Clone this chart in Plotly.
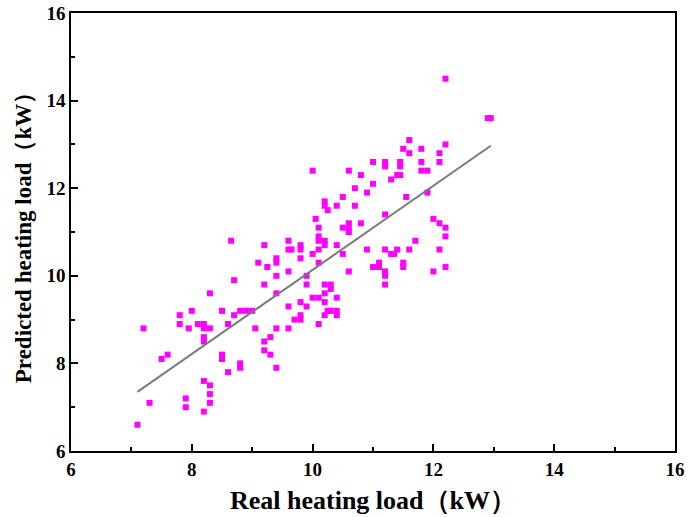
import plotly.graph_objects as go

# Real vs predicted heating load (kW)
real_load = [
    8.7, 8.3, 7.8, 8.0, 8.5, 8.7, 8.8, 8.9, 7.8, 8.1, 8.2, 7.95, 8.2, 8.3, 8.6, 7.2,
    8.2, 8.2, 7.6, 7.5, 8.5, 8.5, 8.8, 8.8, 8.6, 8.2, 8.3, 8.3, 8.3, 7.9, 7.9, 8.2,
    7.3, 7.1,
    9.0, 9.1, 9.25, 9.4, 9.4, 9.4, 9.2, 9.4, 9.6, 9.65, 9.8, 10.1, 9.8, 10.0, 10.1,
    10.5, 10.6, 9.6, 9.9, 9.9, 10.2, 10.3, 10.3, 10.2, 10.0, 10.1, 10.4, 10.2, 9.8,
    9.6, 9.9, 10.25, 10.3, 10.4, 10.4, 10.2, 9.8, 9.8, 9.7, 10.1, 9.05, 9.4, 9.6,
    9.3, 9.2, 9.2, 9.3, 9.4,
    11.2, 11.3, 11.35, 11.4, 11.6, 12.1, 11.0, 11.1, 11.1, 11.2, 11.2, 11.2, 11.5,
    11.5, 12.0, 12.2, 10.9,
    10.0, 10.6, 10.8, 10.7, 10.9, 10.5, 10.2, 10.2, 10.25, 10.4, 10.7, 10.05, 10.1,
    10.5, 10.6, 10.6, 10.6, 10.8, 10.1, 10.1, 10.2, 10.2, 10.4, 9.6, 9.8, 9.2, 8.65,
    12.2, 12.9, 12.95, 11.6, 11.5, 11.8, 11.6, 12.2, 12.1, 11.0, 11.2, 11.45, 11.8,
    12.1, 11.2, 11.45, 11.8, 11.9, 11.4, 11.45, 11.3, 11.0, 11.55, 11.9, 11.2, 12.0,
    12.1, 12.2, 12.2, 11.7,
]
pred_load = [
    9.9, 9.6, 9.1, 9.2, 9.2, 9.1, 9.2, 9.2, 8.9, 8.9, 8.9, 8.8, 8.8, 8.8, 8.9, 8.8,
    8.6, 8.5, 8.2, 8.1, 8.2, 8.1, 8.0, 7.9, 7.8, 7.6, 7.5, 7.3, 7.1, 7.2, 7.0, 6.9,
    7.1, 6.6,
    9.2, 10.3, 10.2, 10.4, 10.3, 10.0, 9.8, 9.6, 10.6, 10.6, 10.6, 10.6, 10.4, 10.5,
    10.3, 10.5, 10.1, 10.1, 10.0, 9.8, 9.8, 9.8, 9.7, 9.6, 9.5, 9.5, 9.5, 9.4, 9.4,
    9.3, 9.3, 9.2, 9.2, 9.2, 9.1, 9.1, 9.1, 9.0, 9.0, 8.9, 8.8, 8.8, 8.8,
    8.6, 8.5, 8.3, 8.2, 7.9,
    10.6, 10.5, 10.5, 10.6, 10.6, 10.6, 10.2, 10.3, 10.2, 10.1, 10.0, 9.8, 10.3,
    10.2, 10.1, 10.2, 10.6,
    12.4, 12.4, 12.3, 12.0, 11.9, 11.8, 11.7, 11.6, 11.5, 11.6, 11.6, 11.3, 11.1,
    11.1, 11.2, 11.1, 11.0, 11.2, 10.9, 10.8, 10.8, 10.7, 10.7, 10.8, 10.7, 10.7, 10.8,
    14.5, 13.6, 13.6, 13.1, 12.9, 12.9, 12.8, 13.0, 12.8, 12.6, 12.6, 12.6, 12.6,
    12.6, 12.5, 12.5, 12.4, 12.4, 12.3, 12.3, 12.2, 12.1, 11.8, 11.9, 11.4, 11.3,
    11.2, 11.1, 10.9, 10.8,
]

# fitted line end points
fit_x = [7.1, 12.95]
fit_y = [7.35, 12.97]

tick_vals = [6, 8, 10, 12, 14, 16]

font_name = "Liberation Serif"

fig = go.Figure()
fig.add_trace(go.Scatter(
    x=real_load, y=pred_load, mode="markers",
    marker=dict(symbol="square", size=6, color="#FF00FF", line=dict(width=0)),
    showlegend=False, cliponaxis=False,
))
fig.add_trace(go.Scatter(
    x=fit_x, y=fit_y, mode="lines",
    line=dict(color="#7a7a7a", width=2),
    showlegend=False,
))

axis_common = dict(
    range=[6, 16], tickvals=tick_vals, automargin=False,
    showgrid=False, zeroline=False,
    showline=True, linecolor="black", linewidth=1.5, mirror=True,
    ticks="inside", ticklen=7, tickwidth=1.5, tickcolor="black",
    minor=dict(ticks="inside", ticklen=4, tickwidth=1.5, tickcolor="black", dtick=1),
    tickfont=dict(family=font_name, size=19, color="black", weight=700),
)

fig.update_xaxes(
    **axis_common,
    title=dict(text="Real heating load（kW）", standoff=12,
               font=dict(family=font_name, size=26, color="black", weight=700)),
)
fig.update_yaxes(
    **axis_common,
    title=dict(text="Predicted heating load（kW）", standoff=8,
               font=dict(family=font_name, size=23, color="black", weight=700)),
)

fig.update_layout(
    width=688, height=517,
    margin=dict(l=71, r=13, t=13, b=66),
    plot_bgcolor="white", paper_bgcolor="white",
)

# drop the default page margin so the figure sits at the top-left corner
fig.write_html("out.html", config={"displayModeBar": False},
               post_script="document.body.style.margin='0';")
